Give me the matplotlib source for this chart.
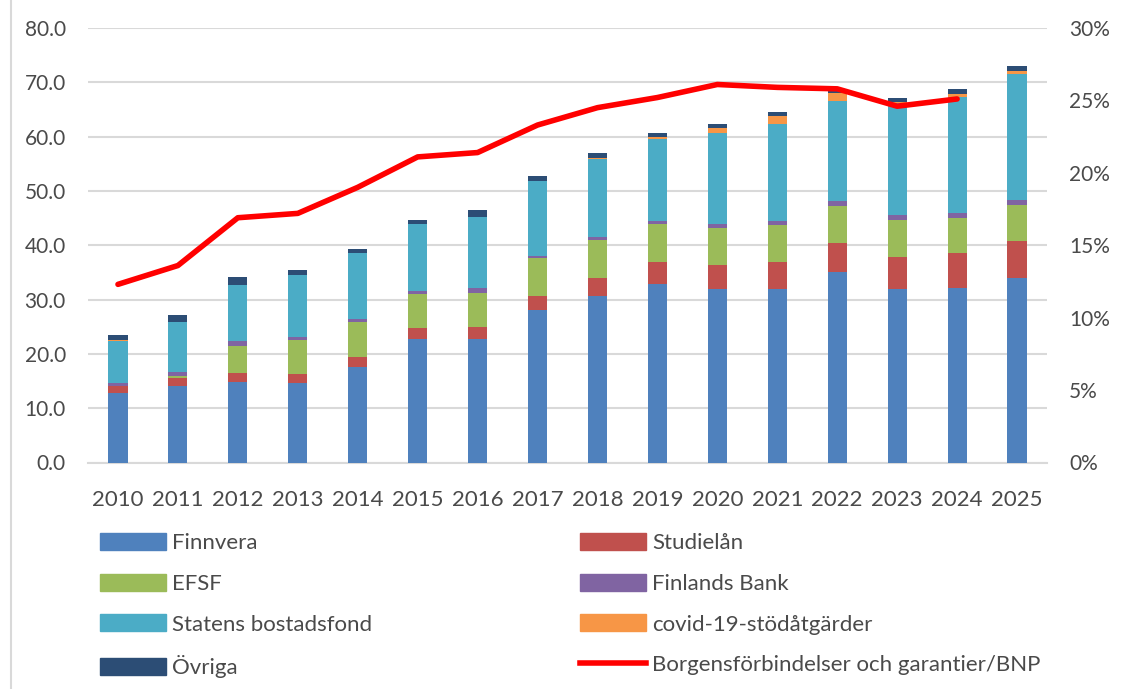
import matplotlib
matplotlib.use("Agg")
import matplotlib.pyplot as plt
import numpy as np
from matplotlib.patches import Patch
from matplotlib.lines import Line2D
from matplotlib.ticker import FuncFormatter, MultipleLocator

years = ["2010", "2011", "2012", "2013", "2014", "2015", "2016", "2017",
         "2018", "2019", "2020", "2021", "2022", "2023", "2024", "2025"]

finnvera = [12.8, 14.1, 14.8, 14.6, 17.6, 22.8, 22.8, 28.0, 30.6, 32.8, 31.9, 32.0, 35.1, 32.0, 32.1, 34.0]
studielan = [1.3, 1.5, 1.7, 1.7, 1.85, 2.0, 2.2, 2.6, 3.3, 4.1, 4.4, 5.0, 5.3, 5.9, 6.4, 6.8]
efsf = [0.0, 0.4, 5.0, 6.3, 6.5, 6.3, 6.3, 7.0, 7.0, 7.0, 6.85, 6.8, 6.8, 6.8, 6.45, 6.6]
finlands_bank = [0.55, 0.7, 0.9, 0.55, 0.55, 0.55, 0.75, 0.37, 0.55, 0.55, 0.75, 0.75, 0.9, 0.9, 0.9, 0.9]
statens_bostadsfond = [7.8, 9.1, 10.2, 11.3, 12.0, 12.2, 13.1, 13.9, 14.4, 15.2, 16.7, 17.7, 18.4, 20.6, 21.4, 23.2]
covid = [0.1, 0.0, 0.0, 0.1, 0.0, 0.0, 0.0, 0.0, 0.2, 0.2, 0.9, 1.5, 1.5, 0.2, 0.55, 0.55]
ovriga = [0.9, 1.3, 1.5, 0.85, 0.9, 0.75, 1.3, 0.9, 0.9, 0.8, 0.75, 0.75, 0.5, 0.75, 0.9, 0.9]
bnp_ratio = [12.3, 13.6, 16.9, 17.2, 19.0, 21.1, 21.4, 23.3, 24.5, 25.2, 26.1, 25.9, 25.8, 24.6, 25.1]

series = [
    ("Finnvera", finnvera, "#4F81BD"),
    ("Studielån", studielan, "#C0504D"),
    ("EFSF", efsf, "#9BBB59"),
    ("Finlands Bank", finlands_bank, "#8064A2"),
    ("Statens bostadsfond", statens_bostadsfond, "#4BACC6"),
    ("covid-19-stödåtgärder", covid, "#F79646"),
    ("Övriga", ovriga, "#2C4D75"),
]
line_label = "Borgensförbindelser och garantier/BNP"

plt.rcParams["font.family"] = ["Lato", "DejaVu Sans"]
txt = "#4a4a4a"

fig = plt.figure(figsize=(11.22, 6.89), dpi=100)
# chart frame edge on the left
fig.add_artist(Line2D([10.5 / 1122, 10.5 / 1122], [0, 1], transform=fig.transFigure,
                      color="#d9d9d9", linewidth=1.5))

ax = fig.add_axes([88 / 1122, 1 - 462.5 / 689, (1047 - 88) / 1122, (462.5 - 28) / 689])
x = np.arange(len(years))
bottom = np.zeros(len(years))
for name, vals, col in series:
    v = np.array(vals)
    ax.bar(x, v, bottom=bottom, width=0.32, color=col, label=name, zorder=3)
    bottom += v

ax.set_xlim(-0.5, len(years) - 0.5)
ax.set_ylim(0, 80)
ax.yaxis.set_major_locator(MultipleLocator(10))
ax.yaxis.set_major_formatter(FuncFormatter(lambda v, p: f"{v:.1f}"))
ax.grid(axis="y", color="#d9d9d9", linewidth=1.5, zorder=0)
for s in ["top", "left", "right"]:
    ax.spines[s].set_visible(False)
ax.spines["bottom"].set_color("#d9d9d9")
ax.spines["bottom"].set_linewidth(1.5)
ax.set_xticks(x)
ax.set_xticklabels(years)
ax.tick_params(axis="both", length=0, colors=txt)
ax.tick_params(axis="x", labelsize=16, pad=20)
ax.tick_params(axis="y", labelsize=15, pad=16)

ax2 = ax.twinx()
ax2.plot(x[:len(bnp_ratio)], bnp_ratio, color="#FF0000", linewidth=4, zorder=5,
         solid_capstyle="round", solid_joinstyle="round")
ax2.set_ylim(0, 30)
ax2.yaxis.set_major_locator(MultipleLocator(5))
ax2.yaxis.set_major_formatter(FuncFormatter(lambda v, p: f"{v:.0f}%"))
for s in ["top", "left", "right", "bottom"]:
    ax2.spines[s].set_visible(False)
ax2.tick_params(axis="y", length=0, labelsize=15, colors=txt, pad=16)

def handles(names):
    hs = []
    for n in names:
        if n == line_label:
            hs.append(Line2D([0], [0], color="#FF0000", linewidth=4))
        else:
            col = [c for nm, _, c in series if nm == n][0]
            hs.append(Patch(facecolor=col, edgecolor=col))
    return hs

col1 = ["Finnvera", "EFSF", "Statens bostadsfond", "Övriga"]
col2 = ["Studielån", "Finlands Bank", "covid-19-stödåtgärder", line_label]
for names, xpos in [(col1, 100 / 1122), (col2, 580 / 1122)]:
    leg = fig.legend(handles(names), names, loc="upper left",
                     bbox_to_anchor=(xpos, 1 - 533 / 689), frameon=False,
                     fontsize=16, handlelength=2.95, handleheight=0.8,
                     handletextpad=0.3, labelspacing=0.92, borderaxespad=0,
                     borderpad=0)
    for t in leg.get_texts():
        t.set_color(txt)

fig.savefig("out.png", dpi=100)
